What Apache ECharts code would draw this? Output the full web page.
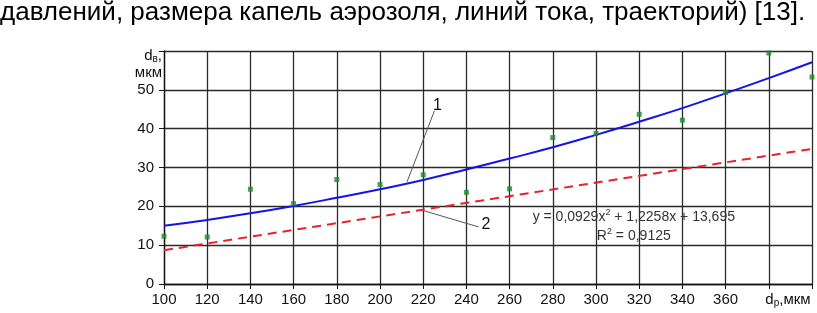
<!DOCTYPE html>
<html><head><meta charset="utf-8">
<script src="https://cdn.jsdelivr.net/npm/echarts@6/dist/echarts.min.js"></script>
<style>html,body{margin:0;padding:0;background:#fff;}#c{width:817px;height:313px;}</style>
</head><body><div id="c"></div>
<script>
// ---- data ----
const dp = [100,120,140,160,180,200,220,240,260,280,300,320,340,360,380,400];
const dbMeasured = [12.3,12.1,24.4,20.7,26.9,25.6,28.1,23.6,24.5,37.7,38.8,43.7,42.2,49.3,59.5,53.3];
const dbTrend = [15.0,16.5,18.2,20.1,22.2,24.4,26.8,29.5,32.3,35.2,38.4,41.8,45.3,49.1,53.0,57.1]; // curve 1
const dbLine2 = [[100,8.7],[400,34.8]]; // curve 2 (straight dashed)
const xTicks = [100,120,140,160,180,200,220,240,260,280,300,320,340,360];
const yTicks = [0,10,20,30,40,50];
const headline = 'давлений, размера капель аэрозоля, линий тока, траекторий) [13].';
const eqText = 'y = 0,0929x{sup|2} + 1,2258x + 13,695';
const r2Text = 'R{sup|2} = 0,9125';

const FONT = '"Liberation Sans", Arial, sans-serif';
const chart = echarts.init(document.getElementById('c'), null, {renderer:'canvas'});
const gridCol = '#2a2a2a';
chart.setOption({
  animation:false,
  grid:{left:164,right:5,top:51,bottom:29},
  xAxis:{type:'value',min:100,max:400,interval:20,
    axisLine:{lineStyle:{color:'#111',width:1.3}},
    axisTick:{show:true,length:5,inside:false,lineStyle:{color:'#111'}},
    axisLabel:{margin:8,fontFamily:FONT,fontSize:15,color:'#111',
      formatter:v=>xTicks.includes(v)?String(v):''},
    splitLine:{show:true,lineStyle:{color:gridCol,width:1.3}}},
  yAxis:{type:'value',min:0,max:60,interval:10,
    axisLine:{show:true,lineStyle:{color:'#111',width:1.3}},
    axisTick:{show:true,length:5,lineStyle:{color:'#111'}},
    axisLabel:{margin:10,fontFamily:FONT,fontSize:15,color:'#111',
      formatter:v=>yTicks.includes(v)?String(v):''},
    splitLine:{show:true,lineStyle:{color:gridCol,width:1.3}}},
  series:[
    {type:'line',data:dp.map((x,i)=>[x,dbTrend[i]]),smooth:true,showSymbol:false,
      lineStyle:{color:'#1414e6',width:2},z:3},
    {type:'line',data:dbLine2,showSymbol:false,
      lineStyle:{color:'#e8222a',width:2,type:[9,6]},z:3},
    {type:'scatter',data:dp.map((x,i)=>[x,dbMeasured[i]]),symbol:'rect',symbolSize:5,
      itemStyle:{color:'#1e8a2a'},clip:false,z:4}
  ]
});

function P(x,y){return chart.convertToPixel({gridIndex:0},[x,y]);}
const a1 = P(225.2,44.6), b1 = P(212.5,26.3), l1 = P(226.6,46);
const a2 = P(219.5,19.0), b2 = P(245.6,14.7), l2 = P(249.0,15.2);
const eq = P(317.5,17.3), r2 = P(317.5,12.4);
chart.setOption({graphic:[
  {type:'text',left:0,top:0,style:{text:headline,font:'26px "Liberation Sans", Arial',fill:'#000'}},
  {type:'line',shape:{x1:a1[0],y1:a1[1],x2:b1[0],y2:b1[1]},style:{stroke:'#555',lineWidth:1}},
  {type:'line',shape:{x1:a2[0],y1:a2[1],x2:b2[0],y2:b2[1]},style:{stroke:'#555',lineWidth:1}},
  {type:'text',x:l1[0],y:l1[1],style:{text:'1',font:'16px '+FONT,fill:'#111',align:'center',verticalAlign:'middle'}},
  {type:'text',x:l2[0],y:l2[1],style:{text:'2',font:'16px '+FONT,fill:'#111',align:'center',verticalAlign:'middle'}},
  {type:'text',x:eq[0],y:eq[1],style:{text:eqText,font:'14px '+FONT,fill:'#333',align:'center',verticalAlign:'middle',
     rich:{sup:{fontSize:9,verticalAlign:'top',padding:[0,0,8,0]}}}},
  {type:'text',x:r2[0],y:r2[1],style:{text:r2Text,font:'14px '+FONT,fill:'#333',align:'center',verticalAlign:'middle',
     rich:{sup:{fontSize:9,verticalAlign:'top',padding:[0,0,8,0]}}}},
  {type:'text',x:162,y:56,style:{text:'d{sub|в},',font:'15px '+FONT,fill:'#111',align:'right',verticalAlign:'middle',
     rich:{sub:{fontSize:10,padding:[6,0,0,0]}}}},
  {type:'text',x:162,y:73,style:{text:'мкм',font:'15px '+FONT,fill:'#111',align:'right',verticalAlign:'middle'}},
  {type:'text',x:788,y:300,style:{text:'d{sub|р},мкм',font:'15px '+FONT,fill:'#111',align:'center',verticalAlign:'middle',
     rich:{sub:{fontSize:10,padding:[6,0,0,0]}}}}
]});
</script></body></html>
